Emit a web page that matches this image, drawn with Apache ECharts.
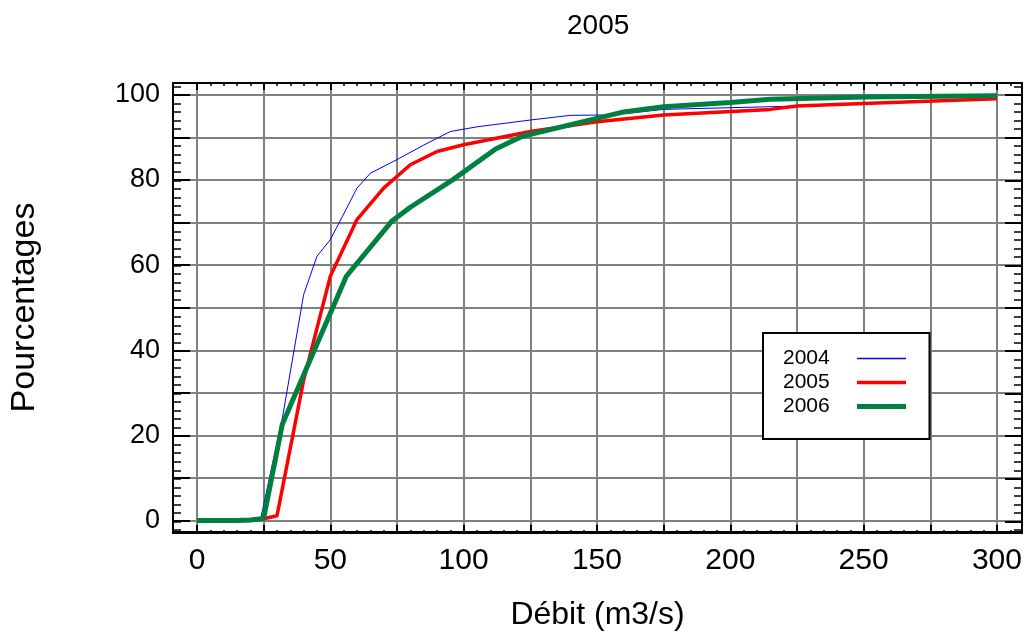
<!DOCTYPE html>
<html>
<head>
<meta charset="utf-8">
<script src="https://cdn.jsdelivr.net/npm/echarts@6/dist/echarts.min.js"></script>
<style>html,body{margin:0;padding:0;background:#fff}#c{width:1031px;height:636px}</style>
</head>
<body>
<div id="c"></div>
<script>
const title = '2005';
const xName = 'Débit (m3/s)';
const yName = 'Pourcentages';
const seriesNames = ['2004', '2005', '2006'];
const xLabelValues = [0, 50, 100, 150, 200, 250, 300];
const yLabelValues = [0, 20, 40, 60, 80, 100];
const xGridValues = [0, 25, 50, 75, 100, 125, 150, 175, 200, 225, 250, 275, 300];
const yGridValues = [0, 10, 20, 30, 40, 50, 60, 70, 80, 90, 100];
const xMinorValues = [0,5,10,15,20,25,30,35,40,45,50,55,60,65,70,75,80,85,90,95,100,105,110,115,120,125,130,135,140,145,150,155,160,165,170,175,180,185,190,195,200,205,210,215,220,225,230,235,240,245,250,255,260,265,270,275,280,285,290,295,300,305];
const yMinorValues = [-2,0,2,4,6,8,10,12,14,16,18,20,22,24,26,28,30,32,34,36,38,40,42,44,46,48,50,52,54,56,58,60,62,64,66,68,70,72,74,76,78,80,82,84,86,88,90,92,94,96,98,100,102];

const data2004 = [[0,0],[20,0],[24,0.8],[32,24],[40,53.1],[45,62.1],[50,66],[55,72],[60,78.1],[65,81.6],[75,84.8],[85,88.2],[90,89.8],[95,91.4],[105,92.5],[125,94.1],[140,95.2],[156,95.3],[175,96.6],[200,97],[220,97.3],[225,97.4],[250,98],[300,99.1]];
const data2005 = [[0,0],[20,0],[25,0.4],[30,1.1],[40,33],[50,57.4],[60,70.7],[70,78.1],[80,83.6],[90,86.7],[100,88.3],[125,91.4],[150,93.7],[175,95.3],[215,96.6],[225,97.4],[250,98],[300,99.1]];
const data2006 = [[0,0],[15,0],[20,0.1],[25,0.5],[32,22.6],[56,57.4],[73,70.3],[80,73.6],[96,80.1],[112,87.3],[122,90.3],[150,94.5],[160,96],[175,97.2],[200,98.2],[215,99],[250,99.5],[300,99.8]];

const X_MIN = -9, X_MAX = 309.4, Y_MIN = -2.7, Y_MAX = 102.8;
const gridBox = {left: 173, top: 83, right: 9, bottom: 103, containLabel: false};
const FONT = 'Liberation Sans, Arial, sans-serif';

function xAx(gi, pos, opts) {
  return Object.assign({
    type: 'value', gridIndex: gi, position: pos, min: X_MIN, max: X_MAX,
    axisLine: {show: true, onZero: false, lineStyle: {color: '#000', width: 2}},
    axisLabel: {show: false}, splitLine: {show: false}
  }, opts);
}
function yAx(gi, pos, opts) {
  return Object.assign({
    type: 'value', gridIndex: gi, position: pos, min: Y_MIN, max: Y_MAX,
    axisLine: {show: true, onZero: false, lineStyle: {color: '#000', width: 2}},
    axisLabel: {show: false}, splitLine: {show: false}
  }, opts);
}

const chart = echarts.init(document.getElementById('c'), null, {renderer: 'canvas'});
chart.setOption({
  backgroundColor: '#fff',
  animation: false,
  title: {text: title, left: 562, top: 7, textStyle: {fontFamily: FONT, fontSize: 28, fontWeight: 'normal', color: '#000'}},
  grid: [Object.assign({}, gridBox), Object.assign({}, gridBox), Object.assign({}, gridBox), Object.assign({}, gridBox)],
  xAxis: [
    xAx(0, 'bottom', {
      name: xName, nameLocation: 'middle', nameGap: 67,
      nameTextStyle: {fontFamily: FONT, fontSize: 32, color: '#000'},
      axisTick: {show: true, inside: true, length: 7, customValues: xGridValues, lineStyle: {color: '#000', width: 2}},
      axisLabel: {show: true, customValues: xLabelValues, margin: 14, fontFamily: FONT, fontSize: 30, color: '#000'},
      splitLine: {show: true, lineStyle: {color: '#808080', width: 2}}
    }),
    xAx(1, 'top', {axisTick: {show: true, inside: true, length: 7, customValues: xGridValues, lineStyle: {color: '#000', width: 2}}}),
    xAx(2, 'bottom', {axisTick: {show: true, inside: true, length: 3, customValues: xMinorValues, lineStyle: {color: '#000', width: 1.5}}}),
    xAx(3, 'top', {axisTick: {show: true, inside: true, length: 3, customValues: xMinorValues, lineStyle: {color: '#000', width: 1.5}}})
  ],
  yAxis: [
    yAx(0, 'left', {
      name: yName, nameLocation: 'middle', nameGap: 131,
      nameTextStyle: {fontFamily: FONT, fontSize: 34, color: '#000'},
      axisTick: {show: true, inside: true, length: 17, customValues: yGridValues, lineStyle: {color: '#000', width: 2}},
      axisLabel: {show: true, customValues: yLabelValues, margin: 13, fontFamily: FONT, fontSize: 27, color: '#000'},
      splitLine: {show: true, lineStyle: {color: '#808080', width: 2}}
    }),
    yAx(1, 'right', {axisTick: {show: true, inside: true, length: 17, customValues: yGridValues, lineStyle: {color: '#000', width: 2}}}),
    yAx(2, 'left', {axisTick: {show: true, inside: true, length: 8, customValues: yMinorValues, lineStyle: {color: '#000', width: 1.5}}}),
    yAx(3, 'right', {axisTick: {show: true, inside: true, length: 8, customValues: yMinorValues, lineStyle: {color: '#000', width: 1.5}}})
  ],
  legend: {
    show: true,
    data: [
      {name: seriesNames[0], lineStyle: {width: 1.5, color: '#0000ff'}},
      {name: seriesNames[1], lineStyle: {width: 3.5, color: '#ff0000'}},
      {name: seriesNames[2], lineStyle: {width: 5, color: '#008040'}}
    ],
    orient: 'vertical', left: 763, top: 333, align: 'right',
    backgroundColor: '#fff', borderColor: '#000', borderWidth: 2, borderRadius: 0,
    padding: [15, 21, 22, 20], itemGap: 3, itemWidth: 49, itemHeight: 14,
    itemStyle: {opacity: 0},
    formatter: '{a|{name}}',
    textStyle: {fontFamily: FONT, fontSize: 21, color: '#000',
      rich: {a: {width: 69, align: 'left', fontFamily: FONT, fontSize: 21, color: '#000', lineHeight: 20}}},
    selectedMode: false
  },
  series: [
    {name: seriesNames[0], type: 'line', xAxisIndex: 0, yAxisIndex: 0, data: data2004, symbol: 'none', z: 3,
     lineStyle: {color: '#0000ff', width: 1}, itemStyle: {color: '#0000ff'}},
    {name: seriesNames[1], type: 'line', xAxisIndex: 0, yAxisIndex: 0, data: data2005, symbol: 'none', z: 4,
     lineStyle: {color: '#ff0000', width: 3.5}, itemStyle: {color: '#ff0000'}},
    {name: seriesNames[2], type: 'line', xAxisIndex: 0, yAxisIndex: 0, data: data2006, symbol: 'none', z: 5,
     lineStyle: {color: '#008040', width: 5}, itemStyle: {color: '#008040'}}
  ]
});
</script>
</body>
</html>
